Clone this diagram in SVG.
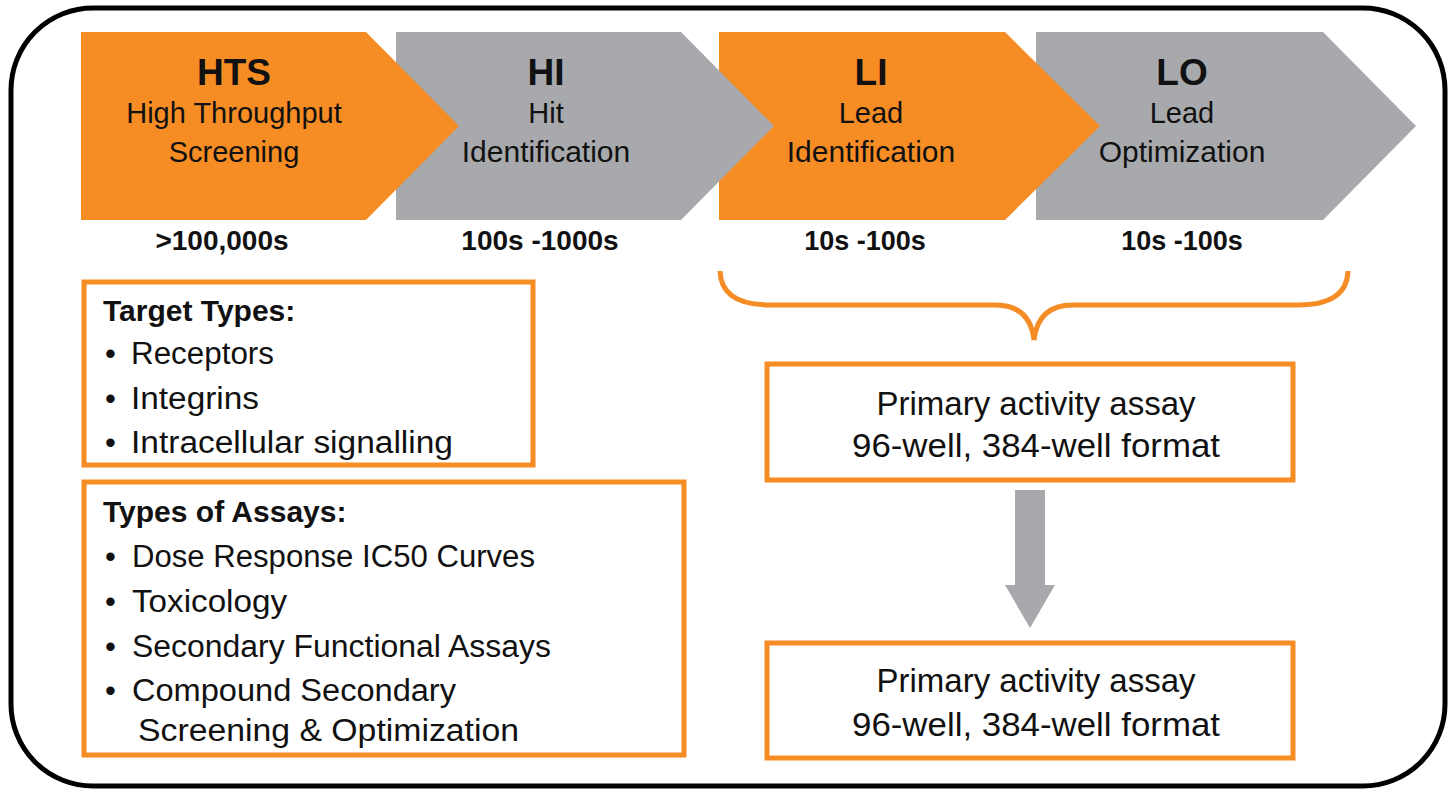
<svg xmlns="http://www.w3.org/2000/svg" width="1451" height="790" viewBox="0 0 1451 790">
<style>
.t{font-family:"Liberation Sans",Arial,sans-serif;fill:#111}
.b{font-weight:bold}
.c{text-anchor:middle}
.orange{fill:#F68C24}
.gray{fill:#A7A9AC}
.box{fill:#fff;stroke:#F68C24;stroke-width:5}
</style>
<rect x="11" y="8" width="1434" height="778" rx="82" ry="82" fill="#fff" stroke="#000" stroke-width="5"/>

<g id="stage-LO">
<polygon class="gray" points="1036,32 1323,32 1416,126 1323,220 1036,220"/>
<text class="t b c" x="1182" y="85" font-size="37">LO</text>
<text class="t c" x="1182" y="123" font-size="29">Lead</text>
<text class="t c" x="1182" y="162" font-size="30">Optimization</text>
<text class="t b c" x="1182" y="250" font-size="27">10s -100s</text>
</g>
<g id="stage-LI">
<polygon class="orange" points="719,32 1005,32 1100,126 1005,220 719,220"/>
<text class="t b c" x="871" y="85" font-size="37">LI</text>
<text class="t c" x="871" y="123" font-size="29">Lead</text>
<text class="t c" x="871" y="162" font-size="30">Identification</text>
<text class="t b c" x="865" y="250" font-size="27">10s -100s</text>
</g>
<g id="stage-HI">
<polygon class="gray" points="396,32 681,32 774,126 681,220 396,220"/>
<text class="t b c" x="546" y="85" font-size="37">HI</text>
<text class="t c" x="546" y="123" font-size="29">Hit</text>
<text class="t c" x="546" y="162" font-size="30">Identification</text>
<text class="t b c" x="540" y="250" font-size="28">100s -1000s</text>
</g>
<g id="stage-HTS">
<polygon class="orange" points="81,32 366,32 459,126 366,220 81,220"/>
<text class="t b c" x="234" y="85" font-size="37">HTS</text>
<text class="t c" x="234" y="123" font-size="29">High Throughput</text>
<text class="t c" x="234" y="162" font-size="29">Screening</text>
<text class="t b c" x="222" y="250" font-size="28">&gt;100,000s</text>
</g>

<g id="target-types">
<rect class="box" x="84" y="282" width="449" height="183"/>
<text class="t b" x="103" y="321" font-size="30">Target Types:</text>
<text class="t" x="105" y="364" font-size="31">•</text>
<text class="t" x="131" y="364" font-size="31" textLength="143" lengthAdjust="spacingAndGlyphs">Receptors</text>
<text class="t" x="105" y="409" font-size="31">•</text>
<text class="t" x="131" y="409" font-size="31" textLength="128" lengthAdjust="spacingAndGlyphs">Integrins</text>
<text class="t" x="105" y="453" font-size="31">•</text>
<text class="t" x="131" y="453" font-size="31" textLength="322" lengthAdjust="spacingAndGlyphs">Intracellular signalling</text>
</g>

<g id="assay-types">
<rect class="box" x="84" y="482" width="600" height="273"/>
<text class="t b" x="103" y="522" font-size="30">Types of Assays:</text>
<text class="t" x="105" y="567" font-size="31">•</text>
<text class="t" x="132" y="567" font-size="31" textLength="403" lengthAdjust="spacingAndGlyphs">Dose Response IC50 Curves</text>
<text class="t" x="105" y="612" font-size="31">•</text>
<text class="t" x="132" y="612" font-size="31" textLength="155" lengthAdjust="spacingAndGlyphs">Toxicology</text>
<text class="t" x="105" y="657" font-size="31">•</text>
<text class="t" x="132" y="657" font-size="31" textLength="419" lengthAdjust="spacingAndGlyphs">Secondary Functional Assays</text>
<text class="t" x="105" y="701" font-size="31">•</text>
<text class="t" x="132" y="701" font-size="31" textLength="324" lengthAdjust="spacingAndGlyphs">Compound Secondary</text>
<text class="t" x="138" y="741" font-size="31" textLength="381" lengthAdjust="spacingAndGlyphs">Screening &amp; Optimization</text>
</g>

<g id="assay-1">
<rect class="box" x="767" y="364" width="526" height="116"/>
<text class="t c" x="1036" y="415" font-size="33">Primary activity assay</text>
<text class="t c" x="1036" y="457" font-size="33" textLength="368" lengthAdjust="spacingAndGlyphs">96-well, 384-well format</text>
</g>

<g id="assay-2">
<rect class="box" x="767" y="643" width="526" height="115"/>
<text class="t c" x="1036" y="692" font-size="33">Primary activity assay</text>
<text class="t c" x="1036" y="736" font-size="33" textLength="368" lengthAdjust="spacingAndGlyphs">96-well, 384-well format</text>
</g>

<g id="connectors">
<path d="M720,271 Q721,305 770,305 L995,305 Q1030,305 1034,340 Q1038,305 1073,305 L1298,305 Q1347,305 1348,271" fill="none" stroke="#F68C24" stroke-width="5"/>
<polygon class="gray" points="1015,490 1045,490 1045,585 1055,585 1030,628 1005,585 1015,585"/>
</g>
</svg>
